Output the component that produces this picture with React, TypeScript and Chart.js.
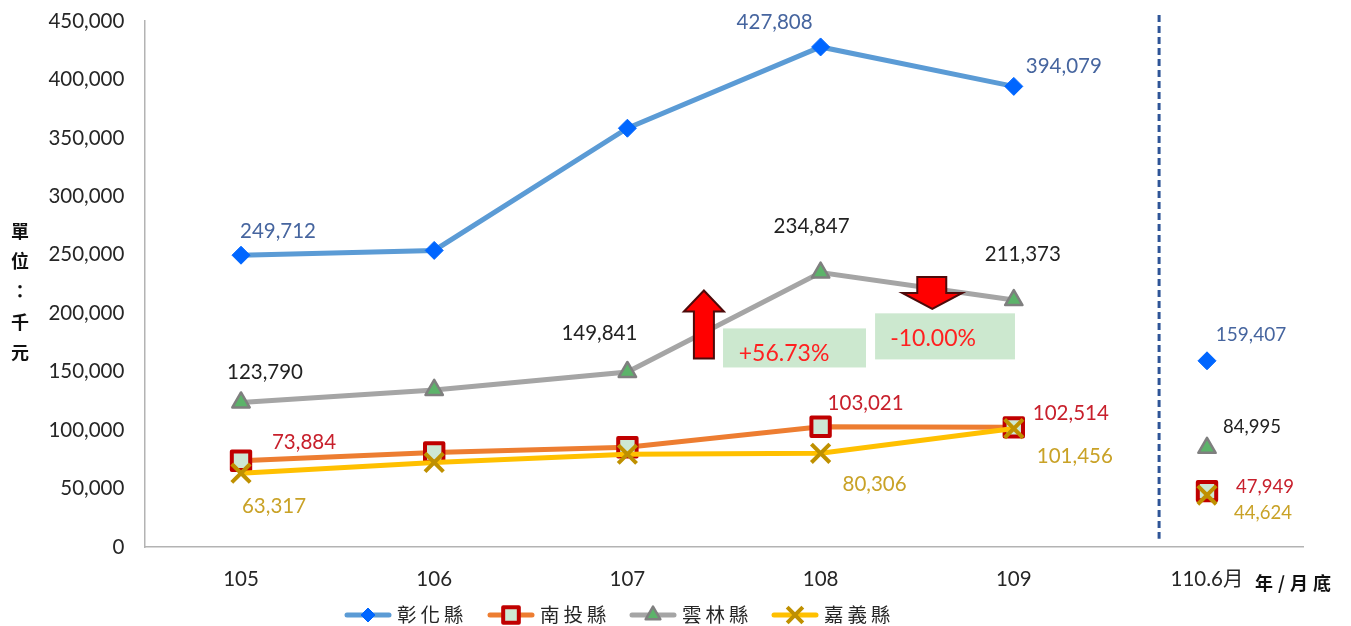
import React, { useEffect, useRef } from "react";
import { Chart, registerables } from "chart.js";
import { drawPoint } from "chart.js/helpers";

Chart.register(...registerables);

const categories = ["105", "106", "107", "108", "109", "110.6月"];
const changhua = [249712, 253800, 358300, 427808, 394079, 159407];
const nantou = [73884, 81000, 85500, 103021, 102514, 47949];
const yunlin = [123790, 134500, 149841, 234847, 211373, 84995];
const chiayi = [63317, 72500, 79500, 80306, 101456, 44624];
const seriesNames = ["彰化縣", "南投縣", "雲林縣", "嘉義縣"];
const changes = ["+56.73%", "-10.00%"];
const yTitle = ["單", "位", "：", "千", "元"];
const xTitle = "年/月底";

const NUM = "Lato, 'Noto Sans CJK TC', sans-serif";
const CJK = "'Noto Sans CJK TC', sans-serif";

const styles = [
  { data: changhua, line: "#5b9bd5", pointStyle: "rectRot", radius: 9, fill: "#0066ff", stroke: "#0066ff", bw: 1, order: 3, labelColor: "#46659f" },
  { data: nantou, line: "#ed7d31", pointStyle: "rect", radius: 13, fill: "#cde8d4", stroke: "#c00000", bw: 4, order: 2, labelColor: "#c8202c" },
  { data: yunlin, line: "#a5a5a5", pointStyle: "triangle", radius: 10, fill: "#5cb36a", stroke: "#7f7f7f", bw: 2.5, order: 1, labelColor: "#222222" },
  { data: chiayi, line: "#ffc000", pointStyle: "crossRot", radius: 13, fill: "#bf9000", stroke: "#bf9000", bw: 4, order: 0, labelColor: "#c9a227" },
];

// value-label offsets from each point [dx, dy, font px]; null = no label
const labelOffsets: ([number, number, number] | null)[][] = [
  [[37, -24, 20.5], null, null, [-46, -25, 20.5], [50, -20, 20.5], [44, -26, 19]],
  [[63, -18, 20.5], null, null, [45, -23, 20.5], [57, -14, 20.5], [58, -4, 18.5]],
  [[24, -30, 20.5], null, [-28, -39, 20.5], [-9, -46, 20.5], [9, -46, 20.5], [45, -21, 18.5]],
  [[33, 33, 20.5], null, null, [54, 31, 20.5], [61, 28, 20.5], [56, 18, 18.5]],
];

const legendX = [368, 511, 653, 795];

function at(chart: any, xv: number, yv: number) {
  return [chart.scales.x.getPixelForValue(xv), chart.scales.y.getPixelForValue(yv)];
}

const overlay = {
  id: "overlay",
  beforeDatasetsDraw(chart: any) {
    chart.ctx.lineJoin = "round";
  },
  afterDatasetsDraw(chart: any) {
    const ctx = chart.ctx;
    ctx.save();

    // dashed separator
    const [sx, sy0] = at(chart, 4.752, 455200);
    const [, sy1] = at(chart, 4.752, 7300);
    ctx.strokeStyle = "#2f5597";
    ctx.lineWidth = 3;
    ctx.setLineDash([7, 4]);
    ctx.beginPath();
    ctx.moveTo(sx, sy0);
    ctx.lineTo(sx, sy1);
    ctx.stroke();
    ctx.setLineDash([]);

    // green boxes with change percentages
    const boxes = [
      { x0: 2.495, x1: 3.235, y0: 187100, y1: 153700, dx: 61, dy: 25 },
      { x0: 3.282, x1: 4.006, y0: 200000, y1: 160600, dx: 58, dy: 25 },
    ];
    boxes.forEach((b, i) => {
      const [l, t] = at(chart, b.x0, b.y0);
      const [r, bt] = at(chart, b.x1, b.y1);
      ctx.fillStyle = "#cce8cf";
      ctx.fillRect(l, t, r - l, bt - t);
      ctx.fillStyle = "#ff2020";
      ctx.font = `23px ${NUM}`;
      ctx.textAlign = "center";
      ctx.textBaseline = "middle";
      ctx.fillText(changes[i], l + b.dx, t + b.dy);
    });

    // arrows
    ctx.fillStyle = "#ff0000";
    ctx.strokeStyle = "#4d0a0a";
    ctx.lineWidth = 2;
    ctx.lineJoin = "miter";
    const [ux, uy] = at(chart, 2.396, 219500);
    const up = [[0, 0], [20, 21], [10, 21], [10, 68], [-10, 68], [-10, 21], [-20, 21]];
    ctx.beginPath();
    up.forEach(([dx, dy], i) => (i ? ctx.lineTo(ux + dx, uy + dy) : ctx.moveTo(ux + dx, uy + dy)));
    ctx.closePath();
    ctx.fill();
    ctx.stroke();
    const [dx0, dy0] = at(chart, 3.578, 203800);
    const down = [[0, 0], [-30, -16], [-15, -16], [-15, -32], [14, -32], [14, -16], [30, -16]];
    ctx.beginPath();
    down.forEach(([dx, dy], i) => (i ? ctx.lineTo(dx0 + dx, dy0 + dy) : ctx.moveTo(dx0 + dx, dy0 + dy)));
    ctx.closePath();
    ctx.fill();
    ctx.stroke();

    // value labels
    ctx.textAlign = "center";
    ctx.textBaseline = "middle";
    styles.forEach((s, si) => {
      s.data.forEach((v, i) => {
        const o = labelOffsets[si][i];
        if (!o) return;
        const [px, py] = at(chart, i, v);
        ctx.font = `${o[2]}px ${NUM}`;
        ctx.fillStyle = s.labelColor;
        ctx.fillText(v.toLocaleString("en-US"), px + o[0], py + o[1]);
      });
    });

    // legend
    ctx.textAlign = "left";
    ctx.lineJoin = "round";
    const ly = 615;
    styles.forEach((s, i) => {
      const cx = legendX[i];
      ctx.strokeStyle = s.line;
      ctx.lineWidth = 5;
      ctx.lineCap = "round";
      ctx.beginPath();
      ctx.moveTo(cx - 21, ly);
      ctx.lineTo(cx + 21, ly);
      ctx.stroke();
      ctx.lineCap = "butt";
      ctx.fillStyle = s.fill;
      ctx.strokeStyle = s.stroke;
      ctx.lineWidth = s.bw;
      drawPoint(ctx, { pointStyle: s.pointStyle, radius: s.pointStyle === "rectRot" ? 7 : s.radius * 0.85, rotation: 0, borderWidth: s.bw }, cx, ly);
      ctx.fillStyle = "#262626";
      ctx.font = `19.5px ${CJK}`;
      (ctx as any).letterSpacing = "4px";
      ctx.fillText(seriesNames[i], cx + 29, ly);
      (ctx as any).letterSpacing = "0px";
    });

    // axis titles
    ctx.fillStyle = "#111111";
    ctx.font = `bold 18px ${CJK}`;
    ctx.textAlign = "center";
    yTitle.forEach((c, i) => ctx.fillText(c, 20, 231 + i * 30.3));
    ctx.textAlign = "left";
    (ctx as any).letterSpacing = "5px";
    ctx.fillText(xTitle, 1255, 583);
    (ctx as any).letterSpacing = "0px";

    ctx.restore();
  },
};

export default function App() {
  const ref = useRef<HTMLCanvasElement>(null);
  useEffect(() => {
    const chart = new Chart(ref.current!, {
      type: "line",
      data: {
        labels: categories,
        datasets: styles.map((s, i) => ({
          label: seriesNames[i],
          data: s.data,
          order: s.order,
          borderColor: s.line,
          borderWidth: 5,
          tension: 0,
          fill: false,
          clip: false,
          pointStyle: s.pointStyle,
          pointRadius: s.radius,
          pointHoverRadius: s.radius,
          pointBackgroundColor: s.fill,
          pointBorderColor: s.stroke,
          pointBorderWidth: s.bw,
          segment: {
            borderColor: (c: any) => (c.p1DataIndex === 5 ? "rgba(0,0,0,0)" : undefined),
          },
        })),
      } as any,
      plugins: [overlay],
      options: {
        animation: false,
        responsive: false,
        events: [],
        layout: { padding: { left: 0, top: 21, right: 47.4, bottom: 0 } },
        plugins: { legend: { display: false }, tooltip: { enabled: false }, title: { display: false } },
        scales: {
          x: {
            offset: true,
            grid: { display: false, drawTicks: false },
            border: { color: "#b3b3b3", width: 1.5 },
            ticks: { font: { family: NUM, size: 20.5 }, color: "#262626", padding: 19.5, maxRotation: 0, autoSkip: false },
            afterFit: (s: any) => { s.height = 78.8; },
          },
          y: {
            min: 0,
            max: 450000,
            grid: { display: false, drawTicks: false },
            border: { color: "#b3b3b3", width: 1.5 },
            ticks: {
              stepSize: 50000,
              font: { family: NUM, size: 20.5 },
              color: "#262626",
              padding: 20,
              callback: (v: any) => Number(v).toLocaleString("en-US"),
            },
            afterFit: (s: any) => { s.width = 144.4; s.paddingTop = 0; s.paddingBottom = 0; },
          },
        },
      } as any,
    });
    return () => chart.destroy();
  }, []);
  return (
    <div style={{ position: "absolute", left: 0, top: 0, width: 1351, height: 626, background: "#fff" }}>
      <canvas ref={ref} width={1351} height={626} style={{ display: "block" }} />
    </div>
  );
}
